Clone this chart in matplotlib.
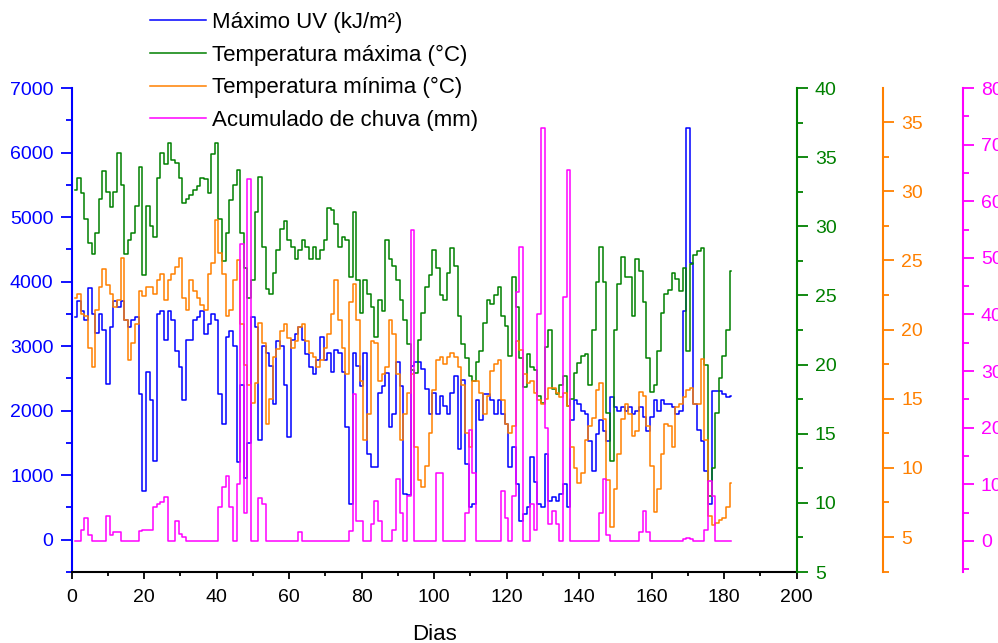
import numpy as np
import matplotlib.pyplot as plt
from matplotlib.ticker import MultipleLocator

plt.rcParams['font.family'] = ['Liberation Sans', 'DejaVu Sans']

dias = np.arange(1, 183)

uv_max = [3450, 3700, 3550, 3400, 3900, 3500, 3200, 3500, 3250, 2420,
          3300, 3700, 3600, 3700, 3400, 3290, 3400, 3450, 2260, 760,
          2600, 2160, 1225, 3500, 3550, 3090, 3550, 3400, 2930, 2670,
          2160, 3090, 3090, 3400, 3450, 3550, 3190, 3350, 3500, 3400,
          2260, 1790, 3140, 3240, 3000, 1200, 2400, 960, 1500, 3450,
          3300, 1550, 3000, 2900, 2700, 2110, 3080, 3000, 2400, 1590,
          3090, 3190, 3290, 3090, 2880, 2670, 2570, 2780, 3140, 2780,
          2900, 2600, 2940, 2900, 2600, 1750, 550, 2900, 2690, 2380,
          2900, 1330, 1120, 1120, 2280, 2380, 2580, 1740, 1950, 2750,
          2380, 710, 700, 2690, 2750, 2750, 2640, 2330, 1950, 2280,
          1950, 2230, 2070, 1950, 2280, 2540, 1400, 2470, 1170, 500,
          550, 2160, 1850, 2260, 2260, 2160, 1950, 2160, 1950, 1790,
          1120, 1430, 865, 295, 400, 500, 1280, 900, 550, 500,
          1330, 605, 655, 605, 710, 865, 500, 1850, 2160, 2100,
          2000, 1950, 1535, 1070, 1640, 1850, 1690, 1535, 2210, 2050,
          2000, 2050, 2000, 2050, 1950, 2000, 2050, 1900, 1690, 1900,
          2160, 2000, 2160, 2100, 2100, 2050, 1950, 2000, 3550, 6380,
          4290, 2100, 1700, 1535, 1070, 550, 2310, 2310, 2310, 2260,
          2210, 2230]

t_max = [32.6, 33.5, 32.4, 30.5, 28.8, 28.0, 29.5, 32.0, 34.0, 32.5,
         31.4, 32.5, 35.3, 33.0, 28.0, 29.0, 29.5, 31.5, 34.3, 26.5,
         31.5, 30.0, 29.2, 33.5, 35.3, 34.5, 36.0, 34.8, 34.6, 33.5,
         31.7, 32.0, 32.3, 32.6, 32.9, 33.5, 33.4, 32.4, 35.2, 36.0,
         30.5, 27.5, 29.5, 31.9, 33.0, 34.1, 29.5, 27.0, 24.8, 26.1,
         31.0, 33.6, 28.5, 25.5, 25.1, 26.6, 28.3, 29.8, 30.4, 29.0,
         28.5, 27.6, 28.3, 29.0, 28.5, 27.6, 28.5, 27.6, 28.3, 29.0,
         31.3, 31.2, 30.2, 28.5, 29.2, 29.0, 26.3, 31.0, 26.1, 23.7,
         26.1, 25.1, 24.2, 22.0, 24.7, 23.9, 29.0, 27.6, 27.1, 26.1,
         24.7, 23.2, 21.5, 19.6, 19.4, 21.8, 23.7, 25.6, 26.5, 28.3,
         27.0, 25.0, 24.7, 26.6, 28.4, 27.1, 23.5, 21.5, 20.5, 19.2,
         18.8, 20.2, 21.0, 23.0, 24.7, 24.4, 25.0, 25.6, 23.5, 22.8,
         20.6, 26.3, 24.2, 20.5, 18.4, 20.8, 19.8, 19.6, 17.7, 17.2,
         21.3, 22.5, 18.2, 17.9, 18.5, 19.2, 17.0, 17.5, 19.4, 20.1,
         20.6, 20.8, 18.5, 22.5, 26.0, 28.5, 26.0, 16.5, 13.0, 22.5,
         25.8, 27.8, 26.3, 26.3, 23.5, 27.6, 26.8, 24.5, 20.5, 18.0,
         18.5, 21.0, 23.7, 25.1, 25.4, 26.6, 26.2, 25.3, 27.0, 21.0,
         27.3, 27.9, 28.2, 28.4, 20.0, 10.5, 12.5, 16.5, 19.0, 20.6,
         22.5, 26.8]

t_min = [22.3, 22.6, 21.1, 21.0, 18.7, 17.3, 21.4, 23.1, 24.4, 23.2,
         22.6, 21.6, 22.1, 25.2, 20.7, 17.8, 19.0, 20.4, 22.8, 22.4,
         23.1, 23.1, 22.6, 23.6, 24.0, 22.1, 23.6, 24.0, 24.5, 25.2,
         22.3, 21.4, 23.6, 22.8, 22.3, 21.8, 21.4, 24.0, 24.8, 27.9,
         25.5, 24.0, 21.0, 21.4, 23.6, 25.0, 20.4, 17.4, 16.0, 14.7,
         16.1, 20.5, 19.0, 13.2, 15.0, 18.0, 18.6, 19.9, 20.4, 19.4,
         18.7, 19.2, 20.2, 20.4, 19.2, 18.3, 18.0, 17.3, 17.8, 18.7,
         19.7, 21.1, 23.6, 20.7, 18.7, 16.8, 22.0, 23.3, 20.7, 16.3,
         12.0, 13.9, 19.2, 19.0, 16.3, 16.8, 17.3, 20.7, 19.7, 16.8,
         12.0, 13.9, 15.4, 16.8, 11.5, 9.1, 8.6, 10.1, 12.5, 15.6,
         17.8, 18.0, 17.5, 18.0, 18.3, 18.0, 17.3, 16.0, 12.5, 11.5,
         16.3, 16.3, 15.4, 13.9, 15.2, 17.0, 17.5, 17.8, 14.9, 13.2,
         12.5, 13.0, 19.2, 18.5, 16.8, 16.1, 16.3, 15.4, 14.9, 14.6,
         15.0, 15.8, 15.8, 15.4, 15.1, 15.4, 14.5, 11.5, 10.0, 8.9,
         9.6, 12.0, 13.0, 13.6, 15.6, 16.1, 13.5, 9.1, 5.7, 8.5,
         11.0, 13.5, 14.6, 13.9, 12.3, 12.7, 15.5, 15.2, 13.0, 10.1,
         6.8, 8.5, 11.0, 13.2, 13.0, 11.5, 14.4, 14.6, 15.1, 15.6,
         15.8, 14.6, 14.6, 17.9, 12.0, 6.5, 5.9, 6.0, 6.2, 6.4,
         7.2, 8.9]

chuva = [0, 0, 2, 4.1, 1, 0, 0, 0, 0, 4.4,
         1, 1.5, 1.5, 0, 0, 0, 0, 0, 1.8, 2,
         2, 2, 6, 6.5, 6.8, 7.7, 0, 0, 3.5, 1.2,
         0.6, 0, 0, 0, 0, 0, 0, 0, 0, 0,
         6, 9.5, 11.5, 6, 0, 10, 52.5, 5, 64, 0,
         0, 7.5, 6.5, 0, 0, 0, 0, 0, 0, 0,
         0, 0, 1.5, 0, 0, 0, 0, 0, 0, 0,
         0, 0, 0, 0, 0, 0, 1.8, 26, 3.5, 3.5,
         0, 0, 3, 7, 3.5, 0, 0, 0, 2, 11,
         5, 0, 8, 55, 0, 0, 0, 0, 0, 0,
         12, 12, 0, 0, 0, 0, 0, 0, 5, 19.5,
         12, 0, 0, 0, 0, 0, 0, 0, 8.8, 4,
         0, 8, 44, 52, 0, 0, 6.5, 2, 40, 73,
         20, 3, 5.3, 3, 0, 43, 65.5, 0, 0, 0,
         0, 0, 0, 0, 0, 5, 11, 1, 0, 0,
         0, 0, 0, 0, 0, 0, 1.5, 5.3, 1.5, 0,
         0, 0, 0, 0, 0, 0, 0, 0, 0.3, 0.5,
         0.3, 0, 0, 0, 2, 10.5, 8, 0, 0, 0,
         0, 0]

labels = ['Máximo UV (kJ/m²)', 'Temperatura máxima (°C)',
          'Temperatura mínima (°C)', 'Acumulado de chuva (mm)']
c_uv, c_tmax, c_tmin, c_chuva = '#0000ff', '#008000', '#ff8000', '#ff00ff'

fig = plt.figure(figsize=(9.98, 6.43), dpi=100)
ax = fig.add_axes([0.0718, 0.1104, 0.7265, 0.7527])
ax_g = ax.twinx()
ax_o = ax.twinx()
ax_m = ax.twinx()

lw = 1.1
l1, = ax.plot(dias, uv_max, color=c_uv, lw=lw, drawstyle='steps-mid')
l2, = ax_g.plot(dias, t_max, color=c_tmax, lw=lw, drawstyle='steps-mid')
l3, = ax_o.plot(dias, t_min, color=c_tmin, lw=lw, drawstyle='steps-mid')
l4, = ax_m.plot(dias, chuva, color=c_chuva, lw=lw, drawstyle='steps-mid')

# main axis (blue, left) + x axis
ax.set_xlim(0, 200)
ax.set_ylim(-500, 7000)
ax.xaxis.set_major_locator(MultipleLocator(20))
ax.xaxis.set_minor_locator(MultipleLocator(10))
ax.yaxis.set_major_locator(MultipleLocator(1000))
ax.yaxis.set_minor_locator(MultipleLocator(500))
ax.spines['top'].set_visible(False)
ax.spines['right'].set_visible(False)
ax.spines['left'].set_color(c_uv)
ax.spines['left'].set_linewidth(1.5)
ax.spines['bottom'].set_linewidth(1.5)
ax.tick_params(axis='x', which='major', direction='out', length=5, width=1.3,
               labelsize=14, pad=7)
ax.tick_params(axis='x', which='minor', direction='out', length=3, width=1.3)
ax.tick_params(axis='y', which='major', direction='out', length=8, width=1.3,
               colors=c_uv, labelsize=14, pad=5)
ax.tick_params(axis='y', which='minor', direction='out', length=4, width=1.3,
               colors=c_uv)
ax.set_xlabel('Dias', fontsize=16, labelpad=13)

# extra right axes
specs = [(ax_g, c_tmax, (5, 40), 5, 2.5, None),
         (ax_o, c_tmin, (2.47, 37.46), 5, 2.5, 1.1195),
         (ax_m, c_chuva, (-5.5, 80), 10, 5, 1.229)]
for a, c, lim, major, minor, pos in specs:
    a.set_ylim(*lim)
    a.yaxis.set_major_locator(MultipleLocator(major))
    a.yaxis.set_minor_locator(MultipleLocator(minor))
    for s in ['top', 'left', 'bottom']:
        a.spines[s].set_visible(False)
    a.spines['right'].set_color(c)
    a.spines['right'].set_linewidth(1.5)
    if pos is not None:
        a.spines['right'].set_position(('axes', pos))
    a.tick_params(axis='y', which='major', direction='out', length=8,
                  width=1.3, colors=c, labelsize=14, pad=5)
    a.tick_params(axis='y', which='minor', direction='out', length=4,
                  width=1.3, colors=c)

fig.legend([l1, l2, l3, l4], labels, loc='upper left',
           bbox_to_anchor=(150 / 998, 1 - 12 / 643), frameon=False,
           fontsize=16, handlelength=2.5, handletextpad=0.3,
           labelspacing=0.52, borderpad=0, borderaxespad=0)

fig.savefig('out.png', dpi=100)
